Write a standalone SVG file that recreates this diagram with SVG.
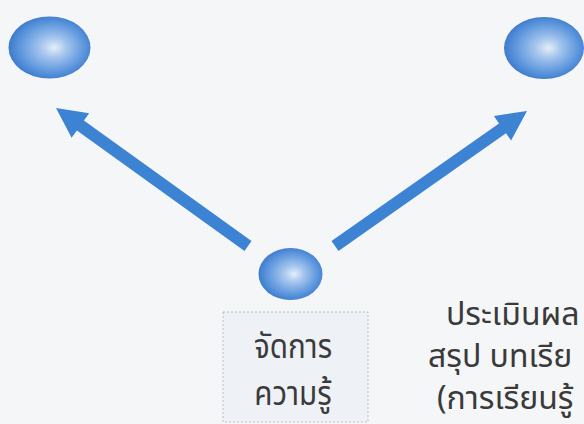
<svg xmlns="http://www.w3.org/2000/svg" width="584" height="424" viewBox="0 0 584 424">
<defs>
<radialGradient id="ball" cx="0.52" cy="0.5" r="0.55" fx="0.56" fy="0.5">
<stop offset="0" stop-color="#e4eefa"/>
<stop offset="0.3" stop-color="#a3c4ed"/>
<stop offset="0.72" stop-color="#5c96dd"/>
<stop offset="1" stop-color="#3675c9"/>
</radialGradient>
<style>
.ball{fill:url(#ball)}
.arrow{fill:#3d83d4}
.lbl{font-family:"Noto Sans","Noto Sans Thai","Liberation Sans",sans-serif;font-size:34px;fill:#3a3a3a}
.side{font-size:32px}
</style>
</defs>
<rect width="584" height="424" fill="#f5f6f7"/>
<g id="connectors">
<polygon class="arrow" points="251.5,241.1 83.9,120.6 89.2,113.3 56,108 71.6,137.7 76.9,130.4 244.5,250.9"/>
<polygon class="arrow" points="331.5,241.1 499,123.4 493.9,116 527,111 511.1,140.6 506,133.2 338.5,250.9"/>
</g>
<g id="node-left">
<ellipse class="ball" cx="49.5" cy="47.5" rx="41" ry="31"/>
</g>
<g id="node-right">
<ellipse class="ball" cx="544" cy="48" rx="40" ry="31"/>
</g>
<g id="node-center">
<ellipse class="ball" cx="290.5" cy="274" rx="32" ry="26"/>
<rect x="223" y="312" width="145" height="110" fill="#eef1f6" stroke="#a9b0ba" stroke-width="0.8" stroke-dasharray="2 2"/>
<text class="lbl" transform="translate(293,358) scale(0.87,1)" text-anchor="middle">จัดการ</text>
<text class="lbl" transform="translate(293,405) scale(0.87,1)" text-anchor="middle">ความรู้</text>
</g>
<g id="node-eval">
<text class="lbl side" x="446" y="325">ประเมินผล</text>
<text class="lbl side" x="428" y="367">สรุป บทเรีย</text>
<text class="lbl side" x="437" y="409">(การเรียนรู้</text>
</g>
</svg>
